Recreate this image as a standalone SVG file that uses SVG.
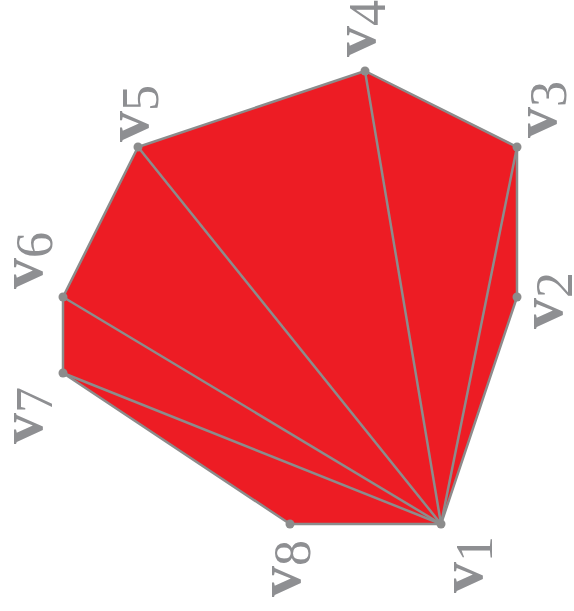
<svg xmlns="http://www.w3.org/2000/svg" width="574" height="611" viewBox="0 0 574 611">
<style>
.poly{fill:#ed1c24;stroke:#8c8c8c;stroke-width:2.5;stroke-linejoin:round}
.diag{stroke:#8c8c8c;stroke-width:2.5;fill:none}
.dot{fill:#8c8c8c}
.lbl{fill:#8e8f92;font-family:"Liberation Serif","Times New Roman",serif}
.v{font-size:62px;font-weight:bold}
.d{font-size:52px}
</style>
<rect width="574" height="611" fill="#fff"/>
<g id="polygon">
<polygon class="poly" points="441,524 517,297 517,147 365,71 138,147 63,297 63,373 290,524"/>
</g>
<g id="connectors">
<line class="diag" x1="441" y1="524" x2="517" y2="147"/>
<line class="diag" x1="441" y1="524" x2="365" y2="71"/>
<line class="diag" x1="441" y1="524" x2="138" y2="147"/>
<line class="diag" x1="441" y1="524" x2="63" y2="297"/>
<line class="diag" x1="441" y1="524" x2="63" y2="373"/>
</g>
<g id="v1"><circle class="dot" cx="441" cy="524" r="4.5"/><text class="lbl" transform="translate(482,593) rotate(-90)"><tspan class="v">v</tspan><tspan class="d" dy="10">1</tspan></text></g>
<g id="v2"><circle class="dot" cx="517" cy="297" r="4.5"/><text class="lbl" transform="translate(562,329) rotate(-90)"><tspan class="v">v</tspan><tspan class="d" dy="10">2</tspan></text></g>
<g id="v3"><circle class="dot" cx="517" cy="147" r="4.5"/><text class="lbl" transform="translate(556,138) rotate(-90)"><tspan class="v">v</tspan><tspan class="d" dy="10">3</tspan></text></g>
<g id="v4"><circle class="dot" cx="365" cy="71" r="4.5"/><text class="lbl" transform="translate(375,57) rotate(-90)"><tspan class="v">v</tspan><tspan class="d" dy="10">4</tspan></text></g>
<g id="v5"><circle class="dot" cx="138" cy="147" r="4.5"/><text class="lbl" transform="translate(148,142) rotate(-90)"><tspan class="v">v</tspan><tspan class="d" dy="10">5</tspan></text></g>
<g id="v6"><circle class="dot" cx="63" cy="297" r="4.5"/><text class="lbl" transform="translate(42,289) rotate(-90)"><tspan class="v">v</tspan><tspan class="d" dy="10">6</tspan></text></g>
<g id="v7"><circle class="dot" cx="63" cy="373" r="4.5"/><text class="lbl" transform="translate(42,444) rotate(-90)"><tspan class="v">v</tspan><tspan class="d" dy="10">7</tspan></text></g>
<g id="v8"><circle class="dot" cx="290" cy="524" r="4.5"/><text class="lbl" transform="translate(300,597) rotate(-90)"><tspan class="v">v</tspan><tspan class="d" dy="10">8</tspan></text></g>
</svg>
